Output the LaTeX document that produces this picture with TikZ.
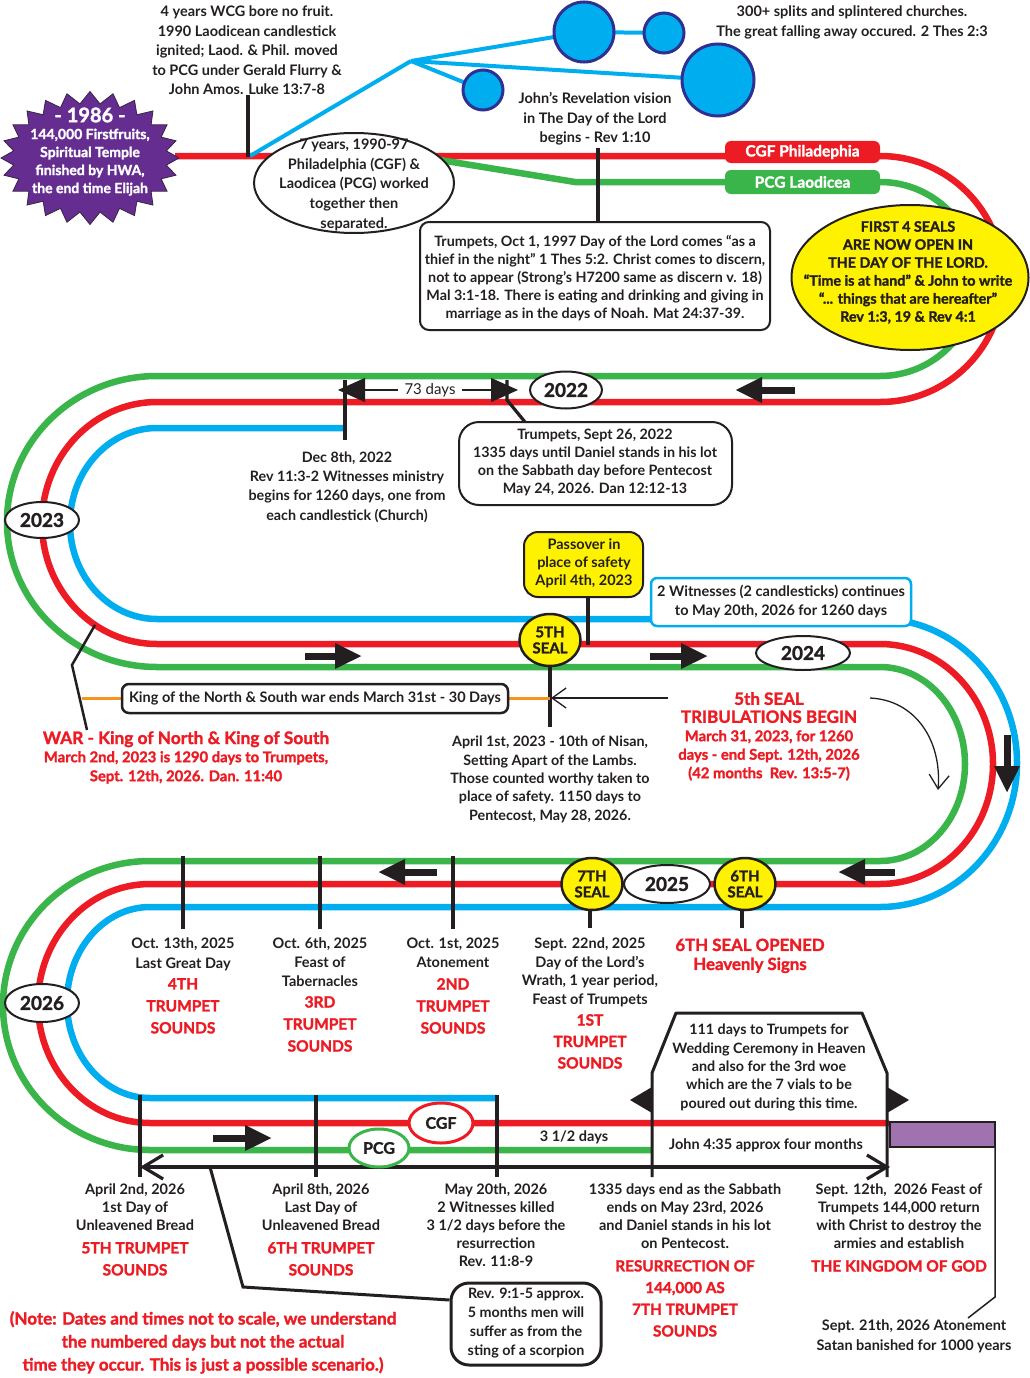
\documentclass[tikz,border=0pt]{standalone}
\usepackage{fontspec}
\setmainfont{Lato}
\newfontfamily\hfont{Lato}[FakeBold=1.6]
\usetikzlibrary{arrows.meta,shapes.geometric}
\definecolor{tred}{HTML}{ED1C24}
\definecolor{tgreen}{HTML}{39B54A}
\definecolor{tblue}{HTML}{00AEEF}
\definecolor{tyellow}{HTML}{FFF200}
\definecolor{ink}{HTML}{231F20}
\definecolor{navy}{HTML}{2E3192}
\definecolor{starpurple}{HTML}{662D91}
\definecolor{boxpurple}{HTML}{A072B0}
\definecolor{torange}{HTML}{F7941D}
\newcommand{\fs}[2]{\fontsize{#1}{#2}\selectfont}
\begin{document}
\begin{tikzpicture}[x=1pt,y=-1pt,
  track/.style={line width=6.5pt},
  tick/.style={draw=ink,line width=3.2pt},
  lbl/.style={font=\bfseries\fs{14.5}{18.5},text=ink,align=center,inner sep=0pt,anchor=north},
  rlbl/.style={font=\hfont\bfseries\fs{15.5}{22},text=tred,align=center,inner sep=0pt,anchor=north},
  bigarrow/.style={draw=ink,line width=7pt,-{Triangle[length=27pt,width=24pt]}},
  chev/.style={draw=ink,line width=3.2pt},
  yr/.style={ellipse,draw=ink,line width=2pt,fill=white,inner sep=0pt,font=\hfont\bfseries\fs{19}{19},text=ink},
  seal/.style={ellipse,draw=ink,line width=2.5pt,fill=tyellow,inner sep=0pt,align=center,font=\hfont\bfseries\fs{15}{16},text=ink,minimum width=61pt,minimum height=52pt},
  bubble/.style={circle,draw=navy,line width=3pt,fill=tblue,inner sep=0pt},
  card/.style={draw=ink,line width=2pt,fill=white,inner sep=0pt},
  thinhead/.style={-{Straight Barb[length=14pt,width=20pt]}}
]
\useasboundingbox (0,0) rectangle (1029,1378);
\fill[white] (0,0) rectangle (1029,1378);

% ---------------- tracks
\draw[track,tred] (175,156) -- (880,156) arc[start angle=90,end angle=-90,radius=123pt]
  -- (157,402) arc[start angle=90,end angle=270,x radius=115pt,y radius=121pt]
  -- (880,644) arc[start angle=90,end angle=-90,x radius=113pt,y radius=120pt]
  -- (150,884) arc[start angle=90,end angle=270,x radius=112pt,y radius=119.5pt]
  -- (889,1123);
\draw[track,tgreen] (440,160) -- (575,182) -- (880,182) arc[start angle=90,end angle=-90,radius=97pt]
  -- (157,376) arc[start angle=90,end angle=270,x radius=150pt,y radius=145.5pt]
  -- (880,667) arc[start angle=90,end angle=-90,x radius=85pt,y radius=97pt]
  -- (150,861) arc[start angle=90,end angle=270,x radius=147pt,y radius=144.5pt]
  -- (652,1150);
\draw[track,tblue] (345,428) -- (157,428) arc[start angle=90,end angle=270,x radius=87pt,y radius=95.5pt]
  -- (880,619) arc[start angle=90,end angle=-90,x radius=137pt,y radius=144pt]
  -- (150,907) arc[start angle=90,end angle=270,x radius=83pt,y radius=95.5pt]
  -- (497,1098);

% ---------------- top: splits
\coordinate (fork) at (411,61);
\coordinate (start) at (250,156);
\coordinate (c1) at (584,32);
\coordinate (c2) at (664,33);
\coordinate (c3) at (718,80);
\coordinate (c4) at (483,90);
\draw[tblue,line width=4pt] (start) -- (fork);
\draw[tblue,line width=4pt] (fork) -- (c1);
\draw[tblue,line width=4pt] (fork) -- (c3);
\draw[tblue,line width=4pt] (fork) -- (c4);
\draw[tblue,line width=4pt] (c1) -- (c2);
\node[bubble,minimum size=60pt] (b1) at (c1) {};
\node[bubble,minimum size=40pt] (b2) at (c2) {};
\node[bubble,minimum size=72pt] (b3) at (c3) {};
\node[bubble,minimum size=40pt] (b4) at (c4) {};

\node[lbl,font=\bfseries\fs{14.5}{19.5}] (t4y) at (247,6) {4 years WCG bore no fruit.\\1990 Laodicean candlestick\\ignited; Laod. \& Phil. moved\\to PCG under Gerald Flurry \&\\John Amos. Luke 13:7-8};
\draw[tick] (248,95) -- (248,157);
\node[lbl,font=\bfseries\fs{14.5}{20}] (t300) at (852,6) {300+ splits and splintered churches.\\The great falling away occured. 2 Thes 2:3};

% starburst
\filldraw[fill=starpurple,draw=ink!70!starpurple,line width=0.8pt] plot[domain=0:47,samples=48,variable=\k]
  ({90+(83+6*cos(180*\k))*cos(7.5*\k)},{158+(60.5+6*cos(180*\k))*sin(7.5*\k)}) -- cycle;
\node[font=\hfont\bfseries\fs{20}{20},text=white,inner sep=0] (y1986) at (90,115) {- 1986 -};
\node[lbl,text=white,font=\hfont\bfseries\fs{14}{18}] (t1986) at (90,128.5) {144,000 Firstfruits,\\Spiritual Temple\\finished by HWA,\\the end time Elijah};

% 7 years ellipse
\node[ellipse,card,minimum width=200pt,minimum height=100pt] (sev) at (354,183) {};
\node[lbl,font=\bfseries\fs{14.5}{19.7}] (sevt) at (354,138.5) {7 years, 1990-97\\Philadelphia (CGF) \&\\Laodicea (PCG) worked\\together then\\separated.};

\node[fill=tred,rounded corners=6pt,minimum width=155pt,minimum height=22pt,inner sep=0,text=white,font=\hfont\bfseries\fs{15.5}{15}] (cgfp) at (802.5,152) {CGF Philadephia};
\node[fill=tgreen,rounded corners=6pt,minimum width=155pt,minimum height=24pt,inner sep=0,text=white,font=\hfont\bfseries\fs{15.5}{15}] (pcgl) at (802.5,182) {PCG Laodicea};

\node[lbl,font=\bfseries\fs{14.5}{19.5}] (john) at (595,92.5) {John’s Revelation vision\\in The Day of the Lord\\begins - Rev 1:10};
\draw[tick] (598,148) -- (598,222);
\node[card,rounded corners=9pt,minimum width=350pt,minimum height=108pt] (tr97) at (595,276) {};
\node[lbl,font=\bfseries\fs{14.3}{18}] (tr97t) at (595,235.5) {Trumpets, Oct 1, 1997 Day of the Lord comes “as a\\thief in the night” 1 Thes 5:2. Christ comes to discern,\\not to appear (Strong’s H7200 same as discern v. 18)\\Mal 3:1-18. There is eating and drinking and giving in\\marriage as in the days of Noah. Mat 24:37-39.};

\node[ellipse,draw=ink,line width=2pt,fill=tyellow,minimum width=237pt,minimum height=145pt,inner sep=0] (seals4) at (910,277.5) {};
\node[lbl,font=\hfont\bfseries\fs{14.3}{18}] (seals4t) at (908,221) {FIRST 4 SEALS\\ARE NOW OPEN IN\\THE DAY OF THE LORD.\\“Time is at hand” \& John to write\\“... things that are hereafter”\\Rev 1:3, 19 \& Rev 4:1};

% ---------------- row 2
\draw[tick] (345,380) -- (345,440);
\draw[tick] (507,380) -- (507,400) -- (525,422);
\node[inner sep=0,font=\fs{15}{15},text=ink] (d73) at (430,390) {73 days};
\draw[ink,line width=1.2pt,-{Triangle[length=27pt,width=24pt]}] (d73.west) ++(-6,0) -- (338,390);
\draw[ink,line width=1.2pt,-{Triangle[length=27pt,width=24pt]}] (d73.east) ++(6,0) -- (518,390);
\node[yr,minimum width=72pt,minimum height=37pt] (y2022) at (566,390) {2022};
\draw[bigarrow] (795,390) -- (735,390);
\node[card,rounded corners=20pt,minimum width=273pt,minimum height=83pt] (tr22) at (595.5,463.5) {};
\node[lbl,font=\bfseries\fs{14.3}{18}] (tr22t) at (595,428.5) {Trumpets, Sept 26, 2022\\1335 days until Daniel stands in his lot\\on the Sabbath day before Pentecost\\May 24, 2026. Dan 12:12-13};
\node[lbl,font=\bfseries\fs{14.3}{19.3}] (dec8) at (347,451.5) {Dec 8th, 2022\\Rev 11:3-2 Witnesses ministry\\begins for 1260 days, one from\\each candlestick (Church)};
\node[yr,minimum width=74pt,minimum height=36pt] (y2023) at (42,520) {2023};

% ---------------- row 3
\node[draw=tblue,line width=2.5pt,rounded corners=6pt,fill=white,minimum width=260pt,minimum height=48pt,inner sep=0] (wit) at (781,602) {};
\node[lbl,font=\bfseries\fs{14.5}{19}] (witt) at (781,585) {2 Witnesses (2 candlesticks) continues\\to May 20th, 2026 for 1260 days};
\node[draw=ink,line width=2pt,rounded corners=14pt,fill=tyellow,minimum width=119pt,minimum height=65pt,inner sep=0] (pass) at (583.5,564.5) {};
\node[lbl,font=\bfseries\fs{14.5}{18}] (passt) at (584,539) {Passover in\\place of safety\\April 4th, 2023};
\draw[tick] (pass.south -| 588,0) -- (588,645);
\node[seal] (s5) at (550,640) {5TH\\SEAL};
\draw[tick] (s5.south) -- (550,727);
\draw[bigarrow] (305,656) -- (362,656);
\draw[bigarrow] (650,656) -- (708,656);
\node[yr,minimum width=94pt,minimum height=34pt] (y2024) at (803,653) {2024};
\draw[torange,line width=3pt] (82,698) -- (122,698);
\draw[torange,line width=3pt] (508,698) -- (550,698);
\node[draw=ink,line width=2.5pt,rounded corners=7pt,fill=white,minimum width=386pt,minimum height=29pt,inner sep=0,font=\bfseries\fs{14.5}{14.5},text=ink] (kns) at (315,698.5) {King of the North \& South war ends March 31st - 30 Days};
\coordinate (thinstart) at (668,698);
\draw[ink,line width=1.3pt,thinhead] (thinstart) -- (551,698);
\coordinate (curvestart) at (870,698);
\coordinate (curveend) at (938,790);
\draw[ink,line width=1.3pt,thinhead] (curvestart) .. controls (915,700) and (942,740) .. (curveend);
\draw[ink,line width=2.5pt] (95,625) -- (72,665) -- (87,730);
\draw[bigarrow] (1007,735) -- (1007,793);

\node[rlbl,font=\hfont\bfseries\fs{17.3}{19}] (war) at (186,731) {WAR - King of North \& King of South};
\node[rlbl,font=\hfont\bfseries\fs{14.8}{19}] (war2) at (186,751) {March 2nd, 2023 is 1290 days to Trumpets,\\Sept. 12th, 2026. Dan. 11:40};
\node[lbl,font=\bfseries\fs{14.3}{18.3}] (apr1) at (550,736) {April 1st, 2023 - 10th of Nisan,\\Setting Apart of the Lambs.\\Those counted worthy taken to\\place of safety. 1150 days to\\Pentecost, May 28, 2026.};
\node[rlbl,font=\hfont\bfseries\fs{17}{18}] (s5t) at (769,692) {5th SEAL\\TRIBULATIONS BEGIN};
\node[rlbl,font=\hfont\bfseries\fs{14.8}{18.5}] (s5t2) at (769,730) {March 31, 2023, for 1260\\days - end Sept. 12th, 2026\\(42 months\ \ Rev. 13:5-7)};

% ---------------- row 4
\draw[tick] (183,856) -- (183,929);
\draw[tick] (320,856) -- (320,929);
\draw[tick] (453,856) -- (453,929);
\draw[bigarrow] (437,872) -- (378,872);
\draw[bigarrow] (895,872) -- (838,872);
\node[seal] (s7) at (592,884) {7TH\\SEAL};
\node[seal] (s6) at (745,884) {6TH\\SEAL};
\node[yr,minimum width=86pt,minimum height=38pt] (y2025) at (667,884) {2025};
\draw[tick] (s7.south -| 590,0) -- (590,928);
\draw[tick] (s6.south -| 742,0) -- (742,928);
\node[yr,minimum width=74pt,minimum height=38pt] (y2026) at (42,1003) {2026};

\node[lbl,font=\bfseries\fs{14.5}{20}] (oct13) at (183,938) {Oct. 13th, 2025\\Last Great Day};
\node[rlbl] (oct13r) at (183,978) {4TH\\TRUMPET\\SOUNDS};
\node[lbl,font=\bfseries\fs{14.5}{19}] (oct6) at (320,938) {Oct. 6th, 2025\\Feast of\\Tabernacles};
\node[rlbl] (oct6r) at (320,996) {3RD\\TRUMPET\\SOUNDS};
\node[lbl,font=\bfseries\fs{14.5}{18.5}] (oct1) at (453,938) {Oct. 1st, 2025\\Atonement};
\node[rlbl] (oct1r) at (453,978) {2ND\\TRUMPET\\SOUNDS};
\node[lbl,font=\bfseries\fs{14.5}{18.5}] (sep22) at (590,938) {Sept. 22nd, 2025\\Day of the Lord’s\\Wrath, 1 year period,\\Feast of Trumpets};
\node[rlbl,font=\hfont\bfseries\fs{15.5}{21.5}] (sep22r) at (590,1014) {1ST\\TRUMPET\\SOUNDS};
\node[rlbl,font=\hfont\bfseries\fs{16.8}{19}] (s6o) at (750,938.5) {6TH SEAL OPENED\\Heavenly Signs};

% ---------------- row 5
\draw[ink,line width=3pt,line join=round] (652,1177) -- (652,1073) -- (676,1013) -- (862,1013) -- (887,1073) -- (887,1177);
\fill[ink] (652,1087) -- (630,1100) -- (652,1113) -- cycle;
\fill[ink] (887,1087) -- (909,1100) -- (887,1113) -- cycle;
\node[lbl,font=\bfseries\fs{14.3}{18.3}] (d111) at (769,1024) {111 days to Trumpets for\\Wedding Ceremony in Heaven\\and also for the 3rd woe\\which are the 7 vials to be\\poured out during this time.};
\draw[tick] (140,1095) -- (140,1177);
\draw[tick] (316,1095) -- (316,1177);
\draw[tick] (497,1095) -- (497,1177);
\coordinate (lineL) at (140,1167);
\coordinate (lineR) at (890,1167);
\draw[chev,{Straight Barb[length=20pt,width=24pt]}-{Straight Barb[length=20pt,width=24pt]}] (lineL) -- (lineR);
\draw[bigarrow] (213,1138) -- (272,1138);
\node[ellipse,draw=tred,line width=3pt,fill=white,minimum width=64pt,minimum height=40pt,inner sep=0,font=\hfont\bfseries\fs{16}{16},text=ink] (cgf) at (441,1123) {CGF};
\node[ellipse,draw=tgreen,line width=3pt,fill=white,minimum width=60pt,minimum height=38pt,inner sep=0,font=\hfont\bfseries\fs{16}{16},text=ink] (pcg) at (379,1148) {PCG};
\node[inner sep=0,font=\bfseries\fs{14.5}{14.5},text=ink] (d35) at (574,1137) {3 1/2 days};
\node[inner sep=0,font=\bfseries\fs{14.5}{14.5},text=ink] (john435) at (766,1145) {John 4:35 approx four months};
\draw[ink,line width=2pt,fill=boxpurple] (890,1122) rectangle (995,1147);
\coordinate (satbend) at (995,1297);
\draw[ink,line width=1.5pt] (995,1147) -- (satbend) -- (968,1318);
\node[card,line width=3pt,rounded corners=18pt,minimum width=150pt,minimum height=82pt] (rev9) at (526,1324) {};
\node[lbl,font=\bfseries\fs{14.3}{19}] (rev9t) at (526,1288) {Rev. 9:1-5 approx.\\5 months men will\\suffer as from the\\sting of a scorpion};
\draw[ink,line width=3pt] (210,1167) -- (243,1287) -- (rev9.west |- 0,1300);

\node[lbl,font=\bfseries\fs{14.5}{18}] (apr2) at (135,1184) {April 2nd, 2026\\1st Day of\\Unleavened Bread};
\node[rlbl] (apr2r) at (135,1242) {5TH TRUMPET\\SOUNDS};
\node[lbl,font=\bfseries\fs{14.5}{18}] (apr8) at (321,1184) {April 8th, 2026\\Last Day of\\Unleavened Bread};
\node[rlbl] (apr8r) at (321,1242) {6TH TRUMPET\\SOUNDS};
\node[lbl,font=\bfseries\fs{14.5}{18}] (may20) at (496,1184) {May 20th, 2026\\2 Witnesses killed\\3 1/2 days before the\\resurrection\\Rev. 11:8-9};
\node[lbl,font=\bfseries\fs{14.5}{18}] (d1335) at (685,1184) {1335 days end as the Sabbath\\ends on May 23rd, 2026\\and Daniel stands in his lot\\on Pentecost.};
\node[rlbl,font=\hfont\bfseries\fs{15.3}{21.7}] (d1335r) at (685,1260) {RESURRECTION OF\\144,000 AS\\7TH TRUMPET\\SOUNDS};
\node[lbl,font=\bfseries\fs{14.5}{18}] (sep12) at (899,1184) {Sept. 12th,\ \ 2026 Feast of\\Trumpets 144,000 return\\with Christ to destroy the\\armies and establish};
\node[rlbl] (sep12r) at (899,1260) {THE KINGDOM OF GOD};
\node[lbl,font=\bfseries\fs{14.5}{20}] (sep21) at (914,1320) {Sept. 21th, 2026 Atonement\\Satan banished for 1000 years};
\node[rlbl,font=\hfont\bfseries\fs{17}{23}] (note) at (203,1311) {(Note: Dates and times not to scale, we understand\\the numbered days but not the actual\\time they occur. This is just a possible scenario.)};
\end{tikzpicture}
\end{document}
